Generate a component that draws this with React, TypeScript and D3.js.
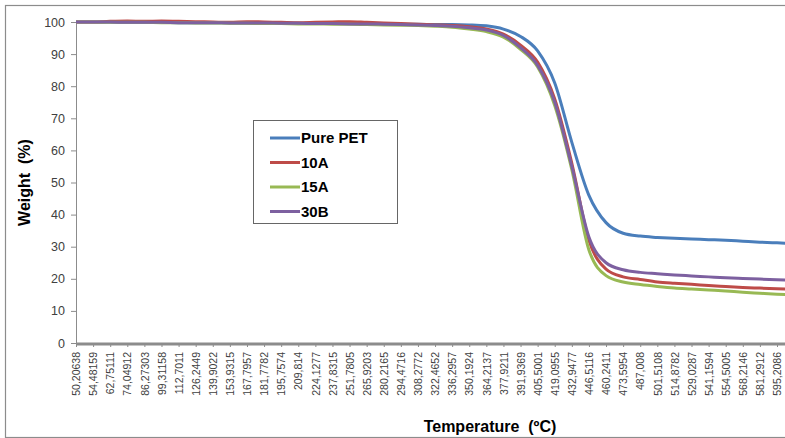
import React from "react";
import * as d3 from "d3";

// temperature labels shown on the category axis
const tempLabels = [
  "50,20638", "54,48159", "62,75111", "74,04912", "86,27303", "99,31158",
  "112,7011", "126,2449", "139,9022", "153,9315", "167,7957", "181,7782",
  "195,7574", "209,814", "224,1277", "237,8315", "251,7805", "265,9203",
  "280,2165", "294,4716", "308,2772", "322,4652", "336,2957", "350,1924",
  "364,2137", "377,9211", "391,9369", "405,5001", "419,0955", "432,9477",
  "446,5116", "460,2411", "473,5954", "487,008", "501,5108", "514,8782",
  "529,0287", "541,1594", "554,5005", "568,2146", "581,2912", "595,2086",
];

const yTicks = [0, 10, 20, 30, 40, 50, 60, 70, 80, 90, 100];

// weight (%) read at each category (last one just past the visible edge)
const purePET = [
  100, 100, 100, 99.9, 99.9, 99.9, 99.8, 99.8, 99.8, 99.7, 99.7,
  99.7, 99.7, 99.6, 99.6, 99.6, 99.5, 99.5, 99.4, 99.3, 99.3,
  99.2, 99.2, 99.1, 98.8, 97.8, 95.5, 91.0, 81, 62.5, 46, 37.5, 34.2,
  33.3, 32.9, 32.6, 32.4, 32.2, 32.0, 31.7, 31.4, 31.2, 31.0,
];
const s10A = [
  100, 100, 100.2, 100.3, 100.2, 100.3, 100.2, 100.1, 100, 99.9, 100.1,
  100, 99.9, 99.8, 99.9, 100, 100.1, 99.9, 99.7, 99.5, 99.3,
  99.1, 98.9, 98.5, 97.8, 96.2, 92.8, 87.5, 76, 56, 32, 23, 20.6,
  19.8, 19.0, 18.6, 18.3, 17.9, 17.6, 17.3, 17.1, 16.9, 16.7,
];
const s15A = [
  100, 100, 99.9, 99.9, 99.9, 99.8, 99.8, 99.7, 99.7, 99.6, 99.6,
  99.5, 99.5, 99.4, 99.4, 99.3, 99.3, 99.2, 99.1, 99.0, 98.9,
  98.7, 98.4, 97.8, 97.0, 95.3, 91.5, 86, 74, 54, 29, 21, 19.0,
  18.2, 17.6, 17.1, 16.8, 16.5, 16.2, 15.8, 15.5, 15.2, 15.0,
];
const s30B = [
  100, 100, 100, 99.9, 99.9, 99.9, 99.8, 99.8, 99.8, 99.7, 99.7,
  99.7, 99.6, 99.6, 99.5, 99.5, 99.4, 99.4, 99.3, 99.2, 99.1,
  98.9, 98.7, 98.2, 97.5, 95.8, 92.0, 86.5, 75, 55, 33, 25, 22.8,
  22.0, 21.6, 21.2, 20.9, 20.6, 20.3, 20.1, 19.9, 19.7, 19.5,
];

const seriesNames = ["Pure PET", "10A", "15A", "30B"];
const seriesColors = ["#4a7ebb", "#be4b48", "#98b954", "#7d60a0"];
const seriesValues = [purePET, s10A, s15A, s30B];

export default function App() {
  const ref = React.useRef<SVGSVGElement>(null);

  React.useEffect(() => {
    document.body.style.margin = "0";
    drawChart();
  }, []);

  function drawChart() {
    const width = 785;
    const height = 438;
    const margin = { top: 22, right: 8, bottom: 95, left: 76 };
    const font = "'Liberation Sans', Arial, sans-serif";

    const svg = d3.select(ref.current);
    svg.selectAll("*").remove();
    svg.attr("width", width).attr("height", height);

    // outer chart border
    svg.append("rect")
      .attr("x", 5.5).attr("y", 5.5)
      .attr("width", width + 20).attr("height", height - 6)
      .attr("fill", "white")
      .attr("stroke", "#8c8c8c")
      .attr("stroke-width", 1.2);

    const x = d3.scaleLinear()
      .domain([0, tempLabels.length - 1])
      .range([margin.left, 777]);
    const y = d3.scaleLinear()
      .domain([0, 100])
      .range([height - margin.bottom, margin.top]);

    // y axis
    const yAxis = d3.axisLeft(y).tickValues(yTicks).tickSize(5).tickPadding(6);
    const gy = svg.append("g")
      .attr("transform", `translate(${margin.left},0)`)
      .call(yAxis);
    gy.select(".domain").attr("stroke", "#8c8c8c");
    gy.selectAll(".tick line").attr("stroke", "#8c8c8c");
    gy.selectAll(".tick text")
      .attr("fill", "#404040")
      .style("font-family", font)
      .style("font-size", "12.5px");

    // x axis (category labels)
    const xAxis = d3.axisBottom(x)
      .tickValues(d3.range(tempLabels.length))
      .tickFormat((d) => tempLabels[d as number])
      .tickSize(4);
    const gx = svg.append("g")
      .attr("transform", `translate(0,${y(0)})`)
      .call(xAxis);
    gx.select(".domain").remove();
    gx.selectAll(".tick line").attr("stroke", "#8c8c8c");
    gx.selectAll(".tick text")
      .attr("fill", "#404040")
      .attr("transform", "rotate(-90)")
      .attr("text-anchor", "end")
      .attr("x", -9)
      .attr("y", 0)
      .attr("dy", "0.35em")
      .style("font-family", font)
      .style("font-size", "10.5px");
    svg.append("line")
      .attr("x1", margin.left).attr("x2", width)
      .attr("y1", y(0) + 1).attr("y2", y(0) + 1)
      .attr("stroke", "#8c8c8c")
      .attr("stroke-width", 3);

    // series lines
    const line = d3.line<number>()
      .x((d, i) => x(i))
      .y((d) => y(d))
      .curve(d3.curveMonotoneX);
    seriesValues.forEach((vals, k) => {
      svg.append("path")
        .datum(vals)
        .attr("d", line)
        .attr("fill", "none")
        .attr("stroke", seriesColors[k])
        .attr("stroke-width", 3);
    });

    // axis titles
    svg.append("text")
      .attr("transform", `translate(30,${(y(0) + y(100)) / 2}) rotate(-90)`)
      .attr("text-anchor", "middle")
      .style("font-family", font)
      .style("font-size", "16px")
      .style("font-weight", "bold")
      .style("white-space", "pre")
      .text("Weight  (%)");
    svg.append("text")
      .attr("x", 490).attr("y", 432)
      .attr("text-anchor", "middle")
      .style("font-family", font)
      .style("font-size", "16px")
      .style("font-weight", "bold")
      .style("white-space", "pre")
      .text("Temperature  (ºC)");

    // legend
    const lg = svg.append("g").attr("transform", "translate(253,120)");
    lg.append("rect")
      .attr("x", 0.5).attr("y", 0.5)
      .attr("width", 144).attr("height", 103)
      .attr("fill", "white")
      .attr("stroke", "#666")
      .attr("stroke-width", 1);
    seriesNames.forEach((name, k) => {
      const yy = 18 + k * 24.5;
      lg.append("line")
        .attr("x1", 17).attr("x2", 47)
        .attr("y1", yy).attr("y2", yy)
        .attr("stroke", seriesColors[k])
        .attr("stroke-width", 3);
      lg.append("text")
        .attr("x", 48).attr("y", yy)
        .attr("dy", "0.36em")
        .style("font-family", font)
        .style("font-size", "15px")
        .style("font-weight", "bold")
        .text(name);
    });
  }

  return <svg ref={ref} style={{ display: "block" }} />;
}
